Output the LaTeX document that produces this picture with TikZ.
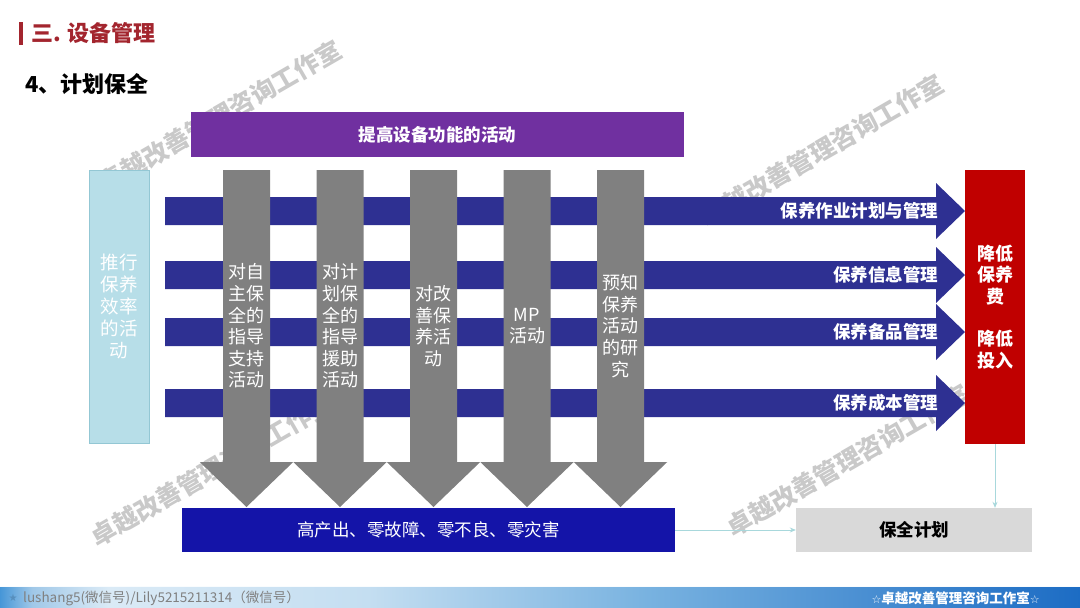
\documentclass[tikz,border=0pt]{standalone}
\usepackage{fontspec}
\setmainfont{Noto Sans CJK SC}
\newfontfamily\symf{DejaVu Sans}
\usetikzlibrary{arrows.meta}
\definecolor{titlered}{HTML}{A3252E}
\definecolor{purp}{HTML}{7030A0}
\definecolor{navy}{HTML}{2E3092}
\definecolor{colgray}{HTML}{808080}
\definecolor{lblue}{HTML}{B7DEE8}
\definecolor{lblueb}{HTML}{93C7D4}
\definecolor{dred}{HTML}{C00000}
\definecolor{bbox}{HTML}{1414A8}
\definecolor{pgray}{HTML}{D9D9D9}
\definecolor{conn}{HTML}{A8D8DC}
\definecolor{wmark}{HTML}{C9C9C9}
\definecolor{fa}{RGB}{70,150,215}
\definecolor{fb}{RGB}{160,200,232}
\definecolor{fc}{RGB}{218,234,246}
\definecolor{fd}{RGB}{196,222,241}
\definecolor{fe}{RGB}{120,178,224}
\definecolor{ff}{RGB}{28,108,196}
\pgfdeclarehorizontalshading{footer}{100bp}{color(0bp)=(fa); color(25bp)=(fa); color(26.5bp)=(fb); color(30bp)=(fc); color(42bp)=(fd); color(55bp)=(fe); color(75bp)=(ff); color(100bp)=(ff)}
\tikzset{
  wm/.style={text=wmark, font=\fontsize{25}{25}\selectfont\bfseries, rotate=30},
  colbox/.style={text=white, align=center, font=\fontsize{18}{21.6}\selectfont},
  barlab/.style={text=white, anchor=east, font=\fontsize{17.5}{20}\selectfont\bfseries},
  boxnode/.style={inner sep=0pt, align=center},
  conline/.style={draw=conn, line width=0.9pt, -{Stealth[length=6pt,width=5pt]}}
}
\begin{document}
\begin{tikzpicture}[x=1pt,y=-1pt]
\useasboundingbox (0,0) rectangle (1080,608);
\fill[white] (0,0) rectangle (1080,608);
% watermarks
\node[wm] (wm1) at (220,116) {卓越改善管理咨询工作室};
\node[wm] (wm2) at (822,150) {卓越改善管理咨询工作室};
\node[wm] (wm3) at (212,470) {卓越改善管理咨询工作室};
\node[wm] (wm4) at (848,460) {卓越改善管理咨询工作室};
% title
\fill[titlered] (19,22) rectangle (22.5,45);
\node[anchor=west, text=titlered, font=\fontsize{22}{24}\selectfont\bfseries, inner sep=0pt] (title) at (31,33) {三. 设备管理};
\node[anchor=west, font=\fontsize{22}{24}\selectfont\bfseries, inner sep=0pt] (sub) at (25,84) {4、计划保全};
% top purple bar
\node[boxnode, fill=purp, minimum width=493pt, minimum height=45pt, text=white, font=\fontsize{17.5}{20}\selectfont\bfseries] (top) at (437.5,134.5) {提高设备功能的活动};
% blue horizontal arrows
\foreach \t/\b in {197/225, 261/289, 318/346, 389/417}{
  \fill[navy] (165,\t) -- (936,\t) -- (936,\t-14) -- (965,{(\t+\b)/2}) -- (936,\b+14) -- (936,\b) -- (165,\b) -- cycle;
}
% gray down arrows
\foreach \cx in {246.5,340,433.5,527,620.5}{
  \fill[colgray] (\cx-23.5,170) -- (\cx+23.5,170) -- (\cx+23.5,462) -- (\cx+46.75,462) -- (\cx,507) -- (\cx-46.75,462) -- (\cx-23.5,462) -- cycle;
}
\node[colbox] (c1) at (246.5,326) {对自\\主保\\全的\\指导\\支持\\活动};
\node[colbox] (c2) at (340,326) {对计\\划保\\全的\\指导\\援助\\活动};
\node[colbox] (c3) at (433.5,326) {对改\\善保\\养活\\动};
\node[colbox] (c4) at (527,326) {MP\\活动};
\node[colbox] (c5) at (620.5,326) {预知\\保养\\活动\\的研\\究};
% bar labels
\node[barlab] (l1) at (942,211) {保养作业计划与管理};
\node[barlab] (l2) at (942,275) {保养信息管理};
\node[barlab] (l3) at (942,332) {保养备品管理};
\node[barlab] (l4) at (942,403) {保养成本管理};
% left light blue box
\node[boxnode, fill=lblue, draw=lblueb, line width=0.6pt, minimum width=60pt, minimum height=273pt, text=white, font=\fontsize{18.5}{22}\selectfont] (left) at (119,306.5) {推行\\保养\\效率\\的活\\动};
% right red box
\node[boxnode, fill=dred, minimum width=60pt, minimum height=274pt, text=white, font=\fontsize{18}{21.3}\selectfont\bfseries] (red) at (995,307) {降低\\保养\\费\\[21.3pt]降低\\投入};
% bottom boxes
\node[boxnode, fill=bbox, minimum width=493pt, minimum height=44pt, text=white, font=\fontsize{17.5}{20}\selectfont] (goal) at (428.5,530) {高产出、零故障、零不良、零灾害};
\node[boxnode, fill=pgray, minimum width=236pt, minimum height=44pt, font=\fontsize{17.5}{20}\selectfont\bfseries] (plan) at (914,530) {保全计划};
% connectors
\draw[conline] (goal.east) -- (plan.west);
\draw[conline] (red.south) -- (red.south |- plan.north);
% footer
\shade[shading=footer] (0,586) rectangle (1080,608);
\draw[white!85!fc, line width=0.8pt] (0,586) -- (1080,586);
\node[text=fa!70!gray, font=\symf\fontsize{10}{10}\selectfont, inner sep=0pt] (star) at (13,598) {★};
\node[anchor=west, text=gray, font=\fontsize{13.5}{15}\selectfont, inner sep=0pt] (foot1) at (23,598) {lushang5(微信号)/Lily5215211314（微信号）};
\node[anchor=east, text=white, font=\fontsize{13.5}{15}\selectfont\bfseries, inner sep=0pt] (foot2) at (1040,598) {{\symf\fontsize{11}{12}\selectfont ☆}卓越改善管理咨询工作室{\symf\fontsize{11}{12}\selectfont ☆}};
\end{tikzpicture}
\end{document}
